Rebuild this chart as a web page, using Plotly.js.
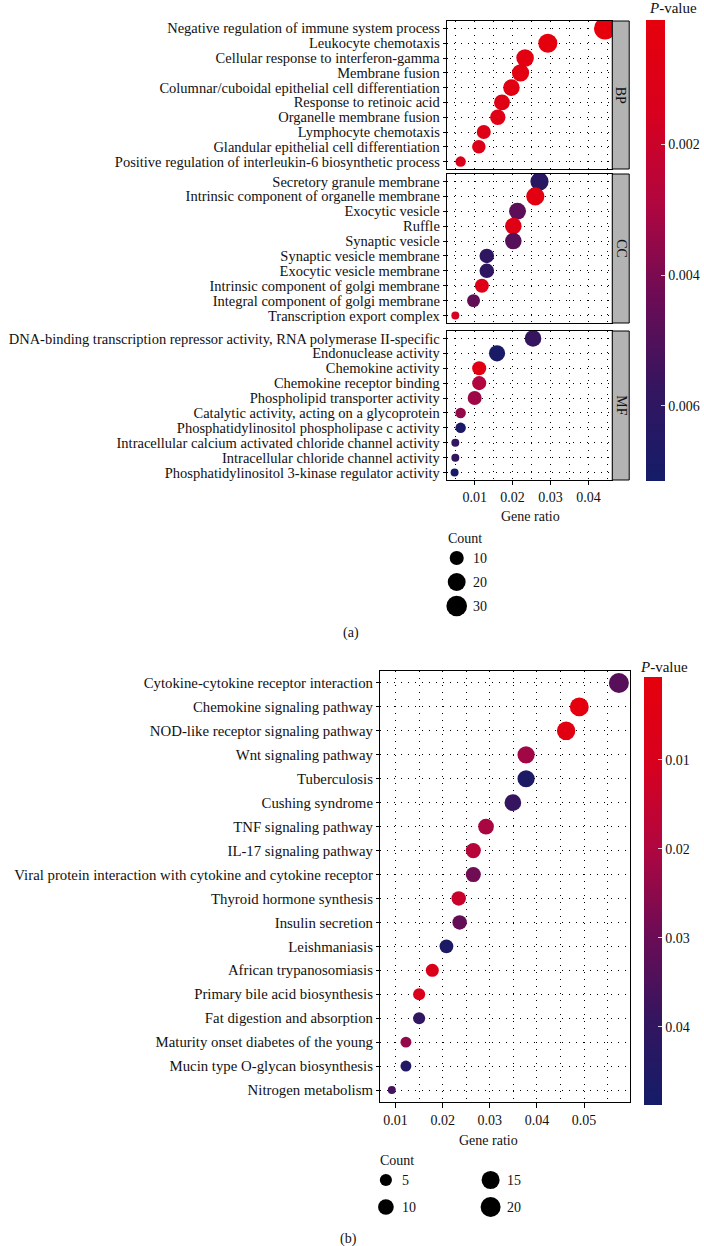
<!DOCTYPE html>
<html>
<head>
<meta charset="utf-8">
<script src="https://cdn.plot.ly/plotly-3.0.1.min.js"></script>
<style>html,body{margin:0;padding:0;background:#fff;}#chart{width:704px;height:1246px;}</style>
</head>
<body>
<div id="chart"></div>
<script>
// ---------- Panel (a): GO enrichment ----------
const bpTerms = ["Negative regulation of immune system process","Leukocyte chemotaxis","Cellular response to interferon-gamma","Membrane fusion","Columnar/cuboidal epithelial cell differentiation","Response to retinoic acid","Organelle membrane fusion","Lymphocyte chemotaxis","Glandular epithelial cell differentiation","Positive regulation of interleukin-6 biosynthetic process"];
const bpRatio = [0.0444,0.0293,0.0233,0.0221,0.0197,0.0172,0.0161,0.0124,0.0111,0.0063];
const bpCount = [36,24,19,18,16,14,13,10,9,5];
const bpP = [0.0001,0.0002,0.0004,0.0005,0.0006,0.0007,0.0008,0.0009,0.0010,0.0012];

const ccTerms = ["Secretory granule membrane","Intrinsic component of organelle membrane","Exocytic vesicle","Ruffle","Synaptic vesicle","Synaptic vesicle membrane","Exocytic vesicle membrane","Intrinsic component of golgi membrane","Integral component of golgi membrane","Transcription export complex"];
const ccRatio = [0.0271,0.0260,0.0213,0.0202,0.0202,0.0132,0.0132,0.0119,0.0097,0.0049];
const ccCount = [21,21,17,16,16,11,11,10,8,4];
const ccP = [0.0062,0.0004,0.0047,0.0008,0.0049,0.0060,0.0060,0.0009,0.0046,0.0015];

const mfTerms = ["DNA-binding transcription repressor activity, RNA polymerase II-specific","Endonuclease activity","Chemokine activity","Chemokine receptor binding","Phospholipid transporter activity","Catalytic activity, acting on a glycoprotein","Phosphatidylinositol phospholipase c activity","Intracellular calcium activated chloride channel activity","Intracellular chloride channel activity","Phosphatidylinositol 3-kinase regulator activity"];
const mfRatio = [0.0254,0.0159,0.0112,0.0112,0.0100,0.0063,0.0063,0.0049,0.0049,0.0047];
const mfCount = [16,15,10,10,10,5,5,4,4,4];
const mfP = [0.0057,0.0069,0.0006,0.0029,0.0033,0.0035,0.0068,0.0058,0.0058,0.0070];

const countLegendA = [10,20,30];
const pTicksA = [0.002,0.004,0.006];
const xTicksA = [0.01,0.02,0.03,0.04];

// ---------- Panel (b): KEGG enrichment ----------
const keggTerms = ["Cytokine-cytokine receptor interaction","Chemokine signaling pathway","NOD-like receptor signaling pathway","Wnt signaling pathway","Tuberculosis","Cushing syndrome","TNF signaling pathway","IL-17 signaling pathway","Viral protein interaction with cytokine and cytokine receptor","Thyroid hormone synthesis","Insulin secretion","Leishmaniasis","African trypanosomiasis","Primary bile acid biosynthesis","Fat digestion and absorption","Maturity onset diabetes of the young","Mucin type O-glycan biosynthesis","Nitrogen metabolism"];
const keggRatio = [0.0574,0.0490,0.0462,0.0377,0.0377,0.0349,0.0292,0.0265,0.0265,0.0234,0.0236,0.0208,0.0178,0.0150,0.0150,0.0122,0.0122,0.0092];
const keggCount = [20,17,16,13,13,12,10,9,9,8,8,7,6,5,5,4,4,3];
const keggP = [0.033,0.002,0.004,0.022,0.046,0.039,0.021,0.018,0.029,0.014,0.031,0.046,0.008,0.009,0.040,0.024,0.045,0.036];

const countLegendB = [5,10,15,20];
const pTicksB = [0.01,0.02,0.03,0.04];
const xTicksB = [0.01,0.02,0.03,0.04,0.05];

// ---------- styling helpers ----------
const W = 704, H = 1246;
const px = v => v / W;
const py = v => 1 - v / H;
const FONT = "Liberation Serif, Times New Roman, serif";
const TXT = '#111';
const colorscale = [[0,'#141c68'],[0.2,'#34155f'],[0.4,'#6c0c55'],[0.6,'#b00640'],[0.8,'#d8001e'],[1,'#e6000c']];

function sizeMap(counts, cmin, cmax, dmin, dmax){
  return counts.map(c => dmin + (dmax - dmin) * Math.sqrt(Math.max(0, c - cmin) / (cmax - cmin)));
}
const allA = bpCount.concat(ccCount, mfCount);
const aMin = Math.min(...allA), aMax = Math.max(...allA);
const bMin = Math.min(...keggCount), bMax = Math.max(...keggCount);
const sizeA = c => sizeMap(c, aMin, aMax, 8, 22);
const sizeB = c => sizeMap(c, bMin, bMax, 8, 20);
const neg = arr => arr.map(v => -v);

// colour ranges (negated so that small p is at the top of the colourbar)
const aCmin = -0.00715, aCmax = -0.0001;
const bCmin = -0.0488, bCmax = -0.00067;

const gridStyle = {showgrid:true, gridcolor:'#000', gridwidth:1, griddash:'1px,6px'};

function xAxis(domain, range, tickvals, labels, extra){
  return Object.assign({
    domain: domain, range: range, tickmode:'array', tickvals: tickvals, ticktext: tickvals.map(v=>v.toFixed(2)),
    ...gridStyle,
    minor: {dtick: 0.005, tick0: 0, showgrid:true, gridcolor:'#000', gridwidth:1, griddash:'1px,6px'},
    showline:true, mirror:true, linecolor:'#000', linewidth:1, zeroline:false,
    ticks: labels ? 'outside' : '', ticklen: 4, tickcolor:'#000',
    showticklabels: labels, tickfont:{family:FONT, size:14, color:TXT},
    fixedrange:true
  }, extra || {});
}
function yAxis(domain, terms, fsize){
  return {
    domain: domain, type:'category', categoryorder:'array', categoryarray: terms,
    tickmode:'array', tickvals: terms, ticktext: terms,
    range: [terms.length - 0.5, -0.5],
    ...gridStyle,
    showline:true, mirror:true, linecolor:'#000', linewidth:1, zeroline:false,
    ticks:'outside', ticklen:3, tickcolor:'#000',
    tickfont:{family:FONT, size:fsize, color:TXT}, automargin:false, fixedrange:true
  };
}

const xRangeA = [0.00263, 0.0463];
const xRangeB = [0.00668, 0.0598];

function facetTrace(ratio, terms, counts, pv, xa, ya, showscale){
  return {
    type:'scatter', mode:'markers', x: ratio, y: terms, xaxis: xa, yaxis: ya,
    hoverinfo:'skip', showlegend:false,
    marker:{
      size: sizeA(counts), color: neg(pv), colorscale: colorscale, cmin: aCmin, cmax: aCmax,
      line:{width:0}, opacity:1, showscale: showscale,
      colorbar: showscale ? {
        x: px(648), xanchor:'left', xpad:0, thickness:19, thicknessmode:'pixels',
        len: 461, lenmode:'pixels', y: py(20), yanchor:'top', ypad:0,
        outlinewidth:0, tickvals: neg(pTicksA), ticktext: pTicksA.map(v=>v.toFixed(3)),
        ticks:'inside', ticklen:4, tickcolor:'rgba(255,255,255,0.8)', tickwidth:1,
        tickfont:{family:FONT, size:14, color:TXT},
        title:{text:''}
      } : undefined
    }
  };
}

const traces = [
  facetTrace(bpRatio, bpTerms, bpCount, bpP, 'x', 'y', true),
  facetTrace(ccRatio, ccTerms, ccCount, ccP, 'x2', 'y2', false),
  facetTrace(mfRatio, mfTerms, mfCount, mfP, 'x3', 'y3', false),
  // legend (a)
  {type:'scatter', mode:'markers', x: countLegendA.map(()=>0), y: countLegendA.map((_,i)=>i),
   xaxis:'x4', yaxis:'y4', hoverinfo:'skip', showlegend:false,
   marker:{size: sizeA(countLegendA), color:'#000', opacity:1, line:{width:0}}},
  // panel (b)
  {type:'scatter', mode:'markers', x: keggRatio, y: keggTerms, xaxis:'x6', yaxis:'y6',
   hoverinfo:'skip', showlegend:false,
   marker:{size: sizeB(keggCount), color: neg(keggP), colorscale: colorscale, cmin: bCmin, cmax: bCmax,
     line:{width:0}, opacity:1, showscale:true,
     colorbar:{
       x: px(646), xanchor:'left', xpad:0, thickness:18, thicknessmode:'pixels',
       len: 428, lenmode:'pixels', y: py(677), yanchor:'top', ypad:0,
       outlinewidth:0, tickvals: neg(pTicksB), ticktext: pTicksB.map(v=>v.toFixed(2)),
       ticks:'inside', ticklen:4, tickcolor:'rgba(255,255,255,0.8)', tickwidth:1,
       tickfont:{family:FONT, size:14, color:TXT},
       title:{text:''}
     }}},
  // legend (b)
  {type:'scatter', mode:'markers', x: countLegendB.map((_,i)=>Math.floor(i/2)), y: countLegendB.map((_,i)=>i%2),
   xaxis:'x5', yaxis:'y5', hoverinfo:'skip', showlegend:false,
   marker:{size: sizeB(countLegendB), color:'#000', opacity:1, line:{width:0}}}
];

const hiddenAxis = (domain, range) => ({domain, range, visible:false, showgrid:false, zeroline:false, fixedrange:true});

function note(text, x, y, opts){
  return Object.assign({text, xref:'paper', yref:'paper', x:px(x), y:py(y), xanchor:'center', yanchor:'middle',
    showarrow:false, font:{family:FONT, size:14, color:TXT}}, opts || {});
}

const dA = [448/W, 614/W];
const layout = {
  width: W, height: H,
  margin:{l:0,r:0,t:0,b:0},
  paper_bgcolor:'#fff', plot_bgcolor:'#fff',
  showlegend:false,
  font:{family:FONT, color:TXT},
  xaxis: xAxis(dA, xRangeA, xTicksA, false, {anchor:'y'}),
  yaxis: Object.assign(yAxis([py(169), py(21)], bpTerms, 14.5), {anchor:'x'}),
  xaxis2: xAxis(dA, xRangeA, xTicksA, false, {anchor:'y2'}),
  yaxis2: Object.assign(yAxis([py(323), py(174)], ccTerms, 14.5), {anchor:'x2'}),
  xaxis3: xAxis(dA, xRangeA, xTicksA, true, {anchor:'y3'}),
  yaxis3: Object.assign(yAxis([py(480), py(331)], mfTerms, 14.5), {anchor:'x3'}),
  xaxis4: Object.assign(hiddenAxis([446/W, 470/W], [-0.5, 0.5]), {anchor:'y4'}),
  yaxis4: Object.assign(hiddenAxis([py(618), py(546)], [2.5, -0.5]), {anchor:'x4'}),
  xaxis5: Object.assign(hiddenAxis([334.5/W, 544.5/W], [-0.5, 1.5]), {anchor:'y5'}),
  yaxis5: Object.assign(hiddenAxis([py(1220.5), py(1166.5)], [1.5, -0.5]), {anchor:'x5'}),
  xaxis6: xAxis([381/W, 632/W], xRangeB, xTicksB, true, {anchor:'y6', ticklen:5}),
  yaxis6: Object.assign(yAxis([py(1102), py(671)], keggTerms, 14.8), {anchor:'x6'}),
  shapes: [
    {type:'rect', xref:'paper', yref:'paper', x0:px(614), x1:px(631), y0:py(169), y1:py(21), fillcolor:'#b3b3b3', line:{color:'#000', width:1}},
    {type:'rect', xref:'paper', yref:'paper', x0:px(614), x1:px(631), y0:py(323), y1:py(174), fillcolor:'#b3b3b3', line:{color:'#000', width:1}},
    {type:'rect', xref:'paper', yref:'paper', x0:px(614), x1:px(631), y0:py(480), y1:py(331), fillcolor:'#b3b3b3', line:{color:'#000', width:1}}
  ],
  annotations: [
    note('BP', 623, 95, {textangle:90}),
    note('CC', 623, 248.5, {textangle:90}),
    note('MF', 623, 405.5, {textangle:90}),
    note('Gene ratio', 532, 516),
    note('Count', 447, 538, {xanchor:'left'}),
    note('(a)', 352, 633),
    note('<i>P</i>-value', 649, 8, {xanchor:'left', font:{family:FONT, size:15, color:TXT}}),
    note('Gene ratio', 490, 1140),
    note('Count', 379, 1160, {xanchor:'left'}),
    note('(b)', 349, 1239),
    note('<i>P</i>-value', 640, 667, {xanchor:'left', font:{family:FONT, size:15, color:TXT}})
  ].concat(
    countLegendA.map((c,i)=>({text:String(c), xref:'x4', yref:'y4', x:0, y:i, xshift:14, xanchor:'left', yanchor:'middle', showarrow:false, font:{family:FONT, size:14, color:TXT}})),
    countLegendB.map((c,i)=>({text:String(c), xref:'x5', yref:'y5', x:Math.floor(i/2), y:i%2, xshift:14, xanchor:'left', yanchor:'middle', showarrow:false, font:{family:FONT, size:14, color:TXT}}))
  )
};

Plotly.newPlot('chart', traces, layout, {staticPlot:true, displayModeBar:false});
</script>
</body>
</html>
